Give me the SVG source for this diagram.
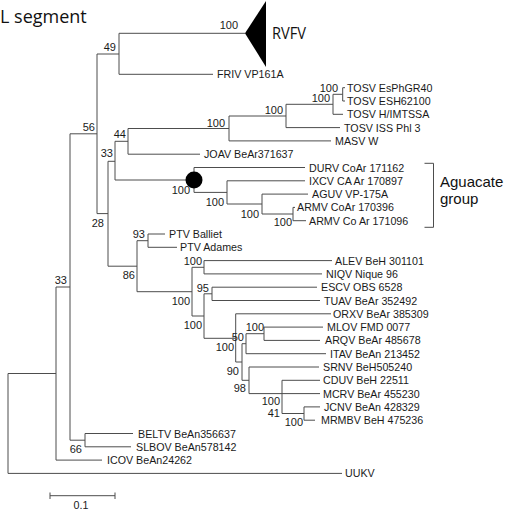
<svg xmlns="http://www.w3.org/2000/svg" width="505" height="510" viewBox="0 0 505 510">
<style>
.ln{fill:none;stroke:#4d4d4d;stroke-width:1}
.lf{font-family:"Liberation Sans",Arial,sans-serif;font-size:10.7px;fill:#1a1a1a}
.bs{font-family:"Liberation Sans",Arial,sans-serif;font-size:11px;fill:#1a1a1a;text-anchor:end}
.big{font-family:"Open Sans","Noto Sans",sans-serif;fill:#111}
.grp{font-family:"Liberation Sans",Arial,sans-serif;font-size:15px;fill:#111}
</style>
<rect width="505" height="510" fill="#fff"/>
<text class="big" x="0" y="23" font-size="18">L segment</text>
<g id="connectors">
<path class="ln" d="M8,373.5V473.4M8,373.5H56M8,473.4H342
M56,287V460.1M56,460.1H102M56,287H70
M70,133.8V440.2M70,440.2H85M85,433.5V446.8M85,433.5H133M85,446.8H131M70,133.8H97
M97,54V213.6M97,54H119M97,213.6H108
M119,33.3V74.3M119,33.3H245M119,74.3H213
M108,161.3V266.2M108,161.3H115M108,266.2H137
M115,141.3V180M115,141.3H128M115,180H194
M128,128.5V154.2M128,128.5H229M128,154.2H200
M229,116V140.9M229,116H286M229,140.9H331
M286,104.3V127.6M286,104.3H333M286,127.6H340
M333,94.3V114.3M333,94.3H342.7M333,114.3H343
M342.7,87.7V101M342.7,87.7H345M342.7,101H345
M194,167.5V192.4M194,167.5H305M194,192.4H227
M227,180.8V204M227,180.8H305M227,204H262
M262,194.1V214M262,194.1H308M262,214H293
M293,207.4V220.7M293,207.4H295M293,220.7H306
M137,240.7V291.7M137,240.7H148M137,291.7H192
M148,234V247.3M148,234H165M148,247.3H177
M192,267.3V316M192,267.3H204M192,316H204
M204,260.6V273.9M204,260.6H332M204,273.9H322
M204,293.8V338.3M204,293.8H212M204,338.3H235.7
M212,287.2V300.5M212,287.2H317M212,300.5H320
M235.7,313.8V362M235.7,313.8H331M235.7,362H242
M242,343.7V380.3M242,343.7H246M242,380.3H249
M246,333.7V353.7M246,333.7H264M246,353.7H326
M264,327.1V340.4M264,327.1H323M264,340.4H320
M249,367V393.6M249,367H319M249,393.6H282
M282,380.3V413.5M282,380.3H320M282,393.6H320M282,413.5H304
M304,406.9V420.2M304,406.9H320M304,420.2H315"/>
<path d="M245,33.3L266,1L266,67Z" fill="#000"/>
<circle cx="194" cy="180" r="8.5" fill="#000"/>
<path class="ln" d="M424.5,163.3H433.5V227.3H424.5"/>
<path class="ln" d="M50,495.7H115M50,492.5V499M115,492.5V499"/>
</g>
<g id="clade-RVFV"><text class="big" x="272" y="39.3" font-size="16.5" textLength="34" lengthAdjust="spacingAndGlyphs">RVFV</text></g>
<g id="aguacate-group"><text class="grp" x="440" y="187">Aguacate</text><text class="grp" x="440" y="204.2">group</text></g>
<g id="leaves">
<g id="FRIV"><text class="lf" x="217" y="78.3">FRIV VP161A</text></g>
<g id="TOSV1"><text class="lf" x="347" y="91.7">TOSV EsPhGR40</text></g>
<g id="TOSV2"><text class="lf" x="347" y="105">TOSV ESH62100</text></g>
<g id="TOSV3"><text class="lf" x="347" y="118.3">TOSV H/IMTSSA</text></g>
<g id="TOSV4"><text class="lf" x="344" y="131.6">TOSV ISS Phl 3</text></g>
<g id="MASV"><text class="lf" x="335" y="144.9">MASV W</text></g>
<g id="JOAV"><text class="lf" x="204" y="158.2">JOAV BeAr371637</text></g>
<g id="DURV"><text class="lf" x="309" y="171.5">DURV CoAr 171162</text></g>
<g id="IXCV"><text class="lf" x="309" y="184.8">IXCV CA Ar 170897</text></g>
<g id="AGUV"><text class="lf" x="312" y="198.1">AGUV VP-175A</text></g>
<g id="ARMV1"><text class="lf" x="297" y="211.4">ARMV CoAr 170396</text></g>
<g id="ARMV2"><text class="lf" x="309" y="224.7">ARMV Co Ar 171096</text></g>
<g id="PTV1"><text class="lf" x="169" y="238">PTV Balliet</text></g>
<g id="PTV2"><text class="lf" x="180" y="251.3">PTV Adames</text></g>
<g id="ALEV"><text class="lf" x="335" y="264.6">ALEV BeH 301101</text></g>
<g id="NIQV"><text class="lf" x="326" y="277.9">NIQV Nique 96</text></g>
<g id="ESCV"><text class="lf" x="321" y="291.2">ESCV OBS 6528</text></g>
<g id="TUAV"><text class="lf" x="324" y="304.5">TUAV BeAr 352492</text></g>
<g id="ORXV"><text class="lf" x="333" y="317.8">ORXV BeAr 385309</text></g>
<g id="MLOV"><text class="lf" x="327" y="331.1">MLOV FMD 0077</text></g>
<g id="ARQV"><text class="lf" x="325" y="344.4">ARQV BeAr 485678</text></g>
<g id="ITAV"><text class="lf" x="330" y="357.7">ITAV BeAn 213452</text></g>
<g id="SRNV"><text class="lf" x="323" y="371">SRNV BeH505240</text></g>
<g id="CDUV"><text class="lf" x="323" y="384.3">CDUV BeH 22511</text></g>
<g id="MCRV"><text class="lf" x="323" y="397.6">MCRV BeAr 455230</text></g>
<g id="JCNV"><text class="lf" x="324" y="410.9">JCNV BeAn 428329</text></g>
<g id="MRMBV"><text class="lf" x="321" y="424.2">MRMBV BeH 475236</text></g>
<g id="BELTV"><text class="lf" x="138" y="437.5">BELTV BeAn356637</text></g>
<g id="SLBOV"><text class="lf" x="136" y="450.8">SLBOV BeAn578142</text></g>
<g id="ICOV"><text class="lf" x="107" y="464.1">ICOV BeAn24262</text></g>
<g id="UUKV"><text class="lf" x="345" y="477.4">UUKV</text></g>
</g>
<g id="bootstrap">
<text class="bs" x="238" y="29">100</text>
<text class="bs" x="116" y="51">49</text>
<text class="bs" x="95" y="131">56</text>
<text class="bs" x="67" y="284">33</text>
<text class="bs" x="104" y="227">28</text>
<text class="bs" x="113" y="157">33</text>
<text class="bs" x="126" y="138">44</text>
<text class="bs" x="225" y="127">100</text>
<text class="bs" x="283" y="114">100</text>
<text class="bs" x="330" y="102">100</text>
<text class="bs" x="338" y="91.5">100</text>
<text class="bs" x="190" y="194">100</text>
<text class="bs" x="224" y="206">100</text>
<text class="bs" x="259" y="218">100</text>
<text class="bs" x="292" y="226">100</text>
<text class="bs" x="145" y="238">93</text>
<text class="bs" x="135" y="279">86</text>
<text class="bs" x="202" y="265">100</text>
<text class="bs" x="190" y="305">100</text>
<text class="bs" x="209" y="292">95</text>
<text class="bs" x="202" y="329">100</text>
<text class="bs" x="234" y="351">100</text>
<text class="bs" x="264" y="331">100</text>
<text class="bs" x="244" y="341">50</text>
<text class="bs" x="239" y="375">90</text>
<text class="bs" x="246" y="392">98</text>
<text class="bs" x="280" y="405">100</text>
<text class="bs" x="280" y="417">41</text>
<text class="bs" x="303" y="426">100</text>
<text class="bs" x="82" y="453">66</text>
</g>
<g id="scale"><text class="lf" x="81" y="509" text-anchor="middle">0.1</text></g>
</svg>
